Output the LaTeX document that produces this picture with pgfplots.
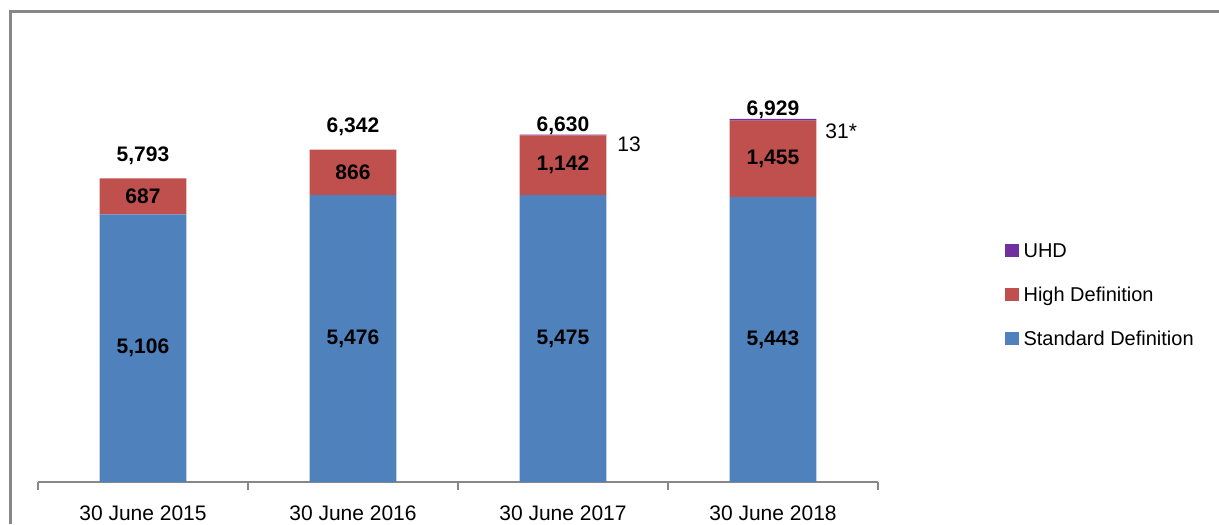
\documentclass[border=0pt]{standalone}
\usepackage{fontspec}
\setmainfont{Liberation Sans}
\usepackage{pgfplots}
\pgfplotsset{compat=1.18}
\definecolor{sdblue}{HTML}{4F81BD}
\definecolor{hdred}{HTML}{C0504D}
\definecolor{uhdpurple}{HTML}{7030A0}
\definecolor{framegray}{HTML}{878787}
\tikzset{lab/.style={font=\bfseries\fontsize{10.5}{12}\selectfont, inner sep=0pt}}
\begin{document}
\begin{tikzpicture}
\useasboundingbox (0,0) rectangle (609.5pt,262pt);
\draw[framegray, line width=1.5pt] (5pt,0) -- (5pt,256pt) -- (609.5pt,256pt);
\begin{axis}[
    at={(19pt,21pt)}, anchor=south west,
    scale only axis, width=420pt, height=209.6pt,
    ybar stacked, bar width=0.414,
    xmin=-0.5, xmax=3.5, ymin=0, ymax=8000,
    axis y line=none, axis x line*=bottom,
    x axis line style={framegray, line width=1pt, -},
    xtick={0,1,2,3},
    xticklabels={30 June 2015,30 June 2016,30 June 2017,30 June 2018},
    major tick length=0pt,
    extra x ticks={-0.5,0.5,1.5,2.5,3.5},
    extra x tick labels={},
    extra x tick style={tick align=outside, major tick length=4pt,
        major tick style={framegray, line width=1pt}},
    xticklabel style={font=\fontsize{10.5}{12}\selectfont, inner sep=0pt, anchor=north, yshift=-11.5pt},
    legend image code/.code={\fill[#1] (0pt,-2.4pt) rectangle (6.6pt,4.2pt);},
    reverse legend,
    legend cell align=left,
    legend style={at={(1.144,0.581)}, anchor=north west, draw=none, fill=none,
        font=\fontsize{10}{12}\selectfont, row sep=12.5pt, column sep=2.5pt,
        nodes={inner sep=0pt, text height=7.5pt, text depth=2pt}},
    clip=false,
]
\addplot[fill=sdblue, draw=none] coordinates {(0,5106) (1,5476) (2,5475) (3,5443)};
\addlegendentry{Standard Definition}
\addplot[fill=hdred, draw=none] coordinates {(0,687) (1,866) (2,1142) (3,1455)};
\addlegendentry{High Definition}
\addplot[fill=uhdpurple, draw=none] coordinates {(0,0) (1,0) (2,13) (3,31)};
\addlegendentry{UHD}
% anchor points for the labels (drawn after the axis, above the bars)
\coordinate (s0) at (axis cs:0,2553);
\coordinate (s1) at (axis cs:1,2738);
\coordinate (s2) at (axis cs:2,2737);
\coordinate (s3) at (axis cs:3,2721);
\coordinate (h0) at (axis cs:0,5449);
\coordinate (h1) at (axis cs:1,5909);
\coordinate (h2) at (axis cs:2,6046);
\coordinate (h3) at (axis cs:3,6170);
\coordinate (t0) at (axis cs:0,5793);
\coordinate (t1) at (axis cs:1,6342);
\coordinate (t2) at (axis cs:2,6630);
\coordinate (t3) at (axis cs:3,6929);
\end{axis}
\node[lab] at (s0) {5,106};
\node[lab] at (s1) {5,476};
\node[lab] at (s2) {5,475};
\node[lab] at (s3) {5,443};
\node[lab] at (h0) {687};
\node[lab] at (h1) {866};
\node[lab] at (h2) {1,142};
\node[lab] at (h3) {1,455};
\node[lab, anchor=base, yshift=8.5pt] at (t0) {5,793};
\node[lab, anchor=base, yshift=8.5pt] at (t1) {6,342};
\node[lab, anchor=base, yshift=1.5pt] at (t2) {6,630};
\node[lab, anchor=base, yshift=1.5pt] at (t3) {6,929};
\node[font=\fontsize{10.5}{12}\selectfont, inner sep=0pt, anchor=west, xshift=27pt, yshift=-5pt] at (t2) {13};
\node[font=\fontsize{10.5}{12}\selectfont, inner sep=0pt, anchor=west, xshift=26pt, yshift=-6pt] at (t3) {31*};
\end{tikzpicture}
\end{document}
